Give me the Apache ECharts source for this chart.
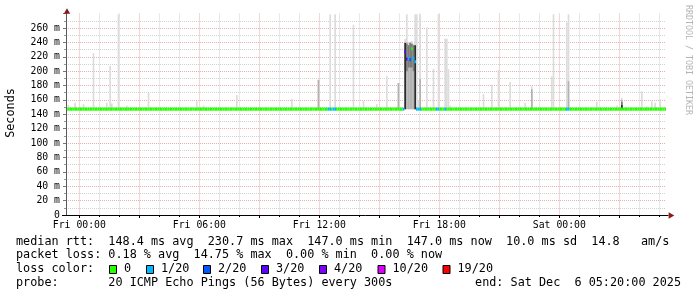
<!DOCTYPE html>
<html><head><meta charset="utf-8">
<script src="https://cdn.jsdelivr.net/npm/echarts@6/dist/echarts.min.js"></script>
<style>html,body{margin:0;padding:0;background:#fff}#c{width:697px;height:297px}</style>
</head><body><div id="c"></div>
<script>
// ---------------- data ----------------
// 5-minute steps; step 0 covers Thu 23:20-23:25, last step ends Sat 05:20
const STEP_MIN = 5;
const FIRST_STEP_MIN = -40;          // minutes relative to Fri 00:00
const N_STEPS = 360;
const DAYS = ['Thu', 'Fri', 'Sat'];

const xTickLabels = ['Fri 00:00', 'Fri 06:00', 'Fri 12:00', 'Fri 18:00', 'Sat 00:00'];
const yTickLabels = ['0', '20 m', '40 m', '60 m', '80 m', '100 m', '120 m', '140 m', '160 m', '180 m', '200 m', '220 m', '240 m', '260 m'];

// median rtt (ms) for steps not listed below
const medianBase = 147.2;
// [step, median ms, lost pings of 20]
const medianSteps = [[203, 227, 3], [204, 217, 3], [205, 218, 1], [206, 216, 2], [207, 231, 0], [208, 218, 1], [209, 213, 1]];
// [step, lost pings] for steps at the base median
const lossSteps = [[157, 1], [158, 1], [160, 1], [161, 1], [202, 1], [210, 1], [211, 1], [212, 1], [222, 1], [223, 1], [227, 1], [300, 1], [301, 1]];

// smoke: [step, highest ping ms] (light), from the floor of the smoke
const smokeFloor = 147;
const lightSmoke = [[1, 153], [5, 156], [10, 154], [16, 225], [24, 156], [26, 207], [27, 155], [31, 279], [36, 152], [49, 170],
  [78, 158], [82, 152], [102, 167], [135, 161.5], [151, 188], [158, 279], [161, 279], [172, 264.5], [178, 158.5], [186, 154],
  [192, 193], [199, 183.5], [203, 245], [204, 279], [205, 240], [206, 238], [207, 242], [208, 238], [209, 279], [210, 279],
  [211, 160], [212, 279], [216, 261], [220, 203], [223, 279], [227, 245], [228, 245], [229, 203], [230, 152], [250, 168],
  [255, 181], [259, 202], [266, 185], [275, 156], [279, 179], [291, 193], [292, 279], [300, 268], [301, 279], [318, 157],
  [330, 152], [333, 163], [345, 172], [348, 151], [351, 158], [353, 156], [356, 161]];
// [step, top ms] medium-density smoke
const midSmoke = [[151, 188], [199, 183.5], [203, 240], [204, 240], [205, 236], [206, 240], [207, 238], [208, 236], [209, 236],
  [212, 189], [279, 175], [301, 186], [333, 160]];
// [step, low ms, high ms] dense smoke
const darkSmoke = [[204, 200, 238], [205, 205, 236], [206, 205, 239], [207, 205, 238], [208, 200, 236], [333, 147, 157]];
const blackSmoke = [[203, 147, 239], [209, 147, 236], [333, 147, 153]];

const lossColors = {0: '#26ff00', 1: '#00b8ff', 2: '#0059ff', 3: '#5e00ff', 4: '#7e00ff', 10: '#dd00ff', 19: '#ff0000'};
const lossLegend = [['0', 0], ['1/20', 1], ['2/20', 2], ['3/20', 3], ['4/20', 4], ['10/20', 10], ['19/20', 19]];

const legendLines = [
  'median rtt:  148.4 ms avg  230.7 ms max  147.0 ms min  147.0 ms now  10.0 ms sd  14.8   am/s',
  'packet loss: 0.18 % avg  14.75 % max  0.00 % min  0.00 % now',
  'loss color:',
  'probe:       20 ICMP Echo Pings (56 Bytes) every 300s'
];
const endText = 'end: Sat Dec  6 05:20:00 2025';

// ---------------- build ----------------
const pad = n => (n < 10 ? '0' : '') + n;
const stepMin = i => FIRST_STEP_MIN + i * STEP_MIN;
const timeLabel = m => {
  const d = Math.floor(m / 1440);
  const mm = ((m % 1440) + 1440) % 1440;
  return DAYS[d + 1] + ' ' + pad(Math.floor(mm / 60)) + ':' + pad(mm % 60);
};
const cats = [];            // one per 5-min step (bars)
for (let i = 0; i < N_STEPS; i++) cats.push(timeLabel(stepMin(i)));
const bounds = [];          // step boundaries (grid + labels)
for (let i = 0; i <= N_STEPS; i++) bounds.push(timeLabel(stepMin(i)));
const isMajor = i => stepMin(i) % 180 === 0;
const isMinor = i => stepMin(i) % 60 === 0 && !isMajor(i);

const blank = () => new Array(N_STEPS).fill('-');
const series = [];
const barCommon = {type: 'bar', xAxisIndex: 2, yAxisIndex: 0, barGap: '-100%', barCategoryGap: '0%', silent: true, animation: false};
function band(name, rows, color) {
  const base = blank(), top = blank();
  rows.forEach(r => { base[r[0]] = r[1]; top[r[0]] = r[2] - r[1]; });
  series.push(Object.assign({stack: name, data: base, itemStyle: {color: 'rgba(0,0,0,0)'}}, barCommon));
  series.push(Object.assign({stack: name, data: top, itemStyle: {color: color}}, barCommon));
}
band('light', lightSmoke.map(r => [r[0], smokeFloor, r[1]]), '#dcdcdc');
band('mid', midSmoke.map(r => [r[0], smokeFloor, r[1]]), '#b2b2b2');
band('dark', darkSmoke, '#7c7c7c');
band('black', blackSmoke, '#2c2c2c');

// median ribbon
const medVal = new Array(N_STEPS).fill(medianBase);
const medLoss = new Array(N_STEPS).fill(0);
lossSteps.forEach(r => { medLoss[r[0]] = r[1]; });
medianSteps.forEach(r => { medVal[r[0]] = r[1]; medLoss[r[0]] = r[2]; });
const HALF = 2.1;
series.push(Object.assign({stack: 'median', data: medVal.map(v => v - HALF), itemStyle: {color: 'rgba(0,0,0,0)'}}, barCommon));
series.push(Object.assign({stack: 'median',
  data: medVal.map((v, i) => ({value: 2 * HALF, itemStyle: {color: lossColors[medLoss[i]]}}))}, barCommon));

// ---------------- chart ----------------
const MONO = '"DejaVu Sans Mono", monospace';
const G = {left: 66, top: 13.6, width: 600, height: 201.4};
const LEG_FONT = '11.8px "DejaVu Sans Mono"';
const MAJOR_C = '#e4b0b0', MINOR_C = '#d2d2d2';
const graphics = [];
graphics.push({type: 'line', shape: {x1: 66.5, y1: 215, x2: 66.5, y2: 12}, style: {stroke: '#5a5a5a', lineWidth: 1}, z: 50});
graphics.push({type: 'line', shape: {x1: 62, y1: 215.5, x2: 668.5, y2: 215.5}, style: {stroke: '#000', lineWidth: 1}, z: 50});
graphics.push({type: 'polygon', shape: {points: [[67, 8.3], [63.8, 13.8], [70.2, 13.8]]}, style: {fill: '#8b1a1a'}, z: 51});
graphics.push({type: 'polygon', shape: {points: [[674.3, 215.5], [668.6, 212.3], [668.6, 218.7]]}, style: {fill: '#8b1a1a'}, z: 51});
graphics.push({type: 'text', x: 11, y: 113, rotation: Math.PI / 2,
  style: {text: 'Seconds', x: 0, y: 0, font: LEG_FONT, fill: '#000', align: 'center', verticalAlign: 'middle', textAlign: 'center', textVerticalAlign: 'middle'}});
graphics.push({type: 'text', x: 688, y: 60, rotation: -Math.PI / 2,
  style: {text: 'RRDTOOL / TOBI OETIKER', x: 0, y: 0, font: '8.3px "DejaVu Sans Mono"', fill: '#b4b4b4', align: 'center', verticalAlign: 'middle', textAlign: 'center', textVerticalAlign: 'middle'}});
const lineY = [241.7, 255.2, 269, 282.7];
legendLines.forEach((t, k) => {
  graphics.push({type: 'text', x: 16, y: lineY[k],
    style: {text: t, x: 0, y: 0, font: LEG_FONT, fill: '#000', align: 'left', verticalAlign: 'middle', textAlign: 'left', textVerticalAlign: 'middle'}});
});
graphics.push({type: 'text', x: 681, y: lineY[3],
  style: {text: endText, x: 0, y: 0, font: LEG_FONT, fill: '#000', align: 'right', verticalAlign: 'middle', textAlign: 'right', textVerticalAlign: 'middle'}});
const boxX = [109, 146, 203, 261, 319, 377.5, 442.5];
lossLegend.forEach((e, k) => {
  graphics.push({type: 'rect', shape: {x: boxX[k] + 0.5, y: 265.5, width: 7, height: 8}, style: {fill: lossColors[e[1]], stroke: '#000', lineWidth: 1}});
  graphics.push({type: 'text', x: boxX[k] + 15, y: lineY[2],
    style: {text: e[0], x: 0, y: 0, font: LEG_FONT, fill: '#000', align: 'left', verticalAlign: 'middle', textAlign: 'left', textVerticalAlign: 'middle'}});
});

const chart = echarts.init(document.getElementById('c'), null, {renderer: 'canvas', width: 697, height: 297});
chart.setOption({
  backgroundColor: '#fff',
  animation: false,
  grid: Object.assign({containLabel: false, outerBoundsMode: 'none'}, G),
  xAxis: [
    {type: 'category', data: bounds, boundaryGap: false, position: 'bottom', z: 1,
      axisLine: {show: false},
      axisTick: {show: true, length: 3, interval: (i) => isMajor(i), lineStyle: {color: '#000'}},
      axisLabel: {show: true, interval: (i, v) => xTickLabels.indexOf(v) >= 0, margin: 5,
        fontFamily: MONO, fontSize: 9.8, color: '#000'},
      splitLine: {show: true, interval: (i) => isMajor(i), lineStyle: {color: MAJOR_C, type: [1, 1], width: 1}}},
    {type: 'category', data: bounds, boundaryGap: false, position: 'bottom', z: 0,
      axisLine: {show: false},
      axisTick: {show: true, length: 2, interval: (i) => isMinor(i), lineStyle: {color: '#000'}},
      axisLabel: {show: false},
      splitLine: {show: true, interval: (i) => isMinor(i), lineStyle: {color: MINOR_C, type: [1, 1], width: 1}}},
    {type: 'category', data: cats, boundaryGap: true, show: false}
  ],
  yAxis: [
    {type: 'value', min: 0, max: 280, interval: 20, position: 'left', z: 1,
      axisLine: {show: false},
      axisTick: {show: true, length: 3, lineStyle: {color: '#777'}},
      axisLabel: {margin: 6, fontFamily: MONO, fontSize: 9.8, color: '#000',
        formatter: v => (v / 20 < yTickLabels.length ? yTickLabels[v / 20] : '')},
      splitLine: {show: true, showMinLine: false, showMaxLine: false, lineStyle: {color: MAJOR_C, type: [1, 1], width: 1}}},
    {type: 'value', min: 0, max: 280, interval: 10, position: 'left', z: 0,
      axisLine: {show: false},
      axisTick: {show: true, length: 2, lineStyle: {color: '#999'}},
      axisLabel: {show: false},
      splitLine: {show: true, showMinLine: false, showMaxLine: false, lineStyle: {color: MINOR_C, type: [1, 1], width: 1}}}
  ],
  series: series,
  graphic: {elements: graphics}
});
</script></body></html>
